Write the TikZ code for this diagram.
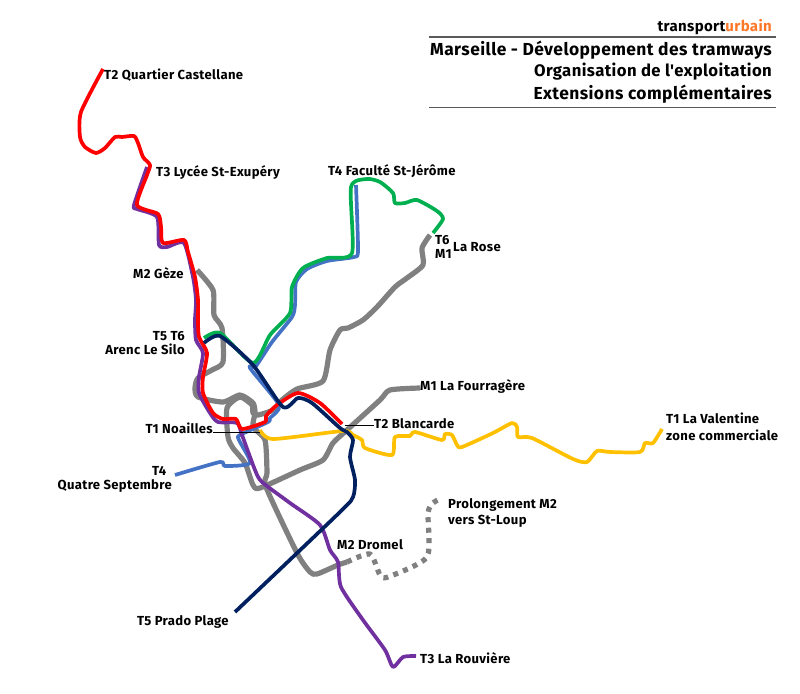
\documentclass[tikz,border=0pt]{standalone}
\usepackage{fontspec}
\setmainfont{Fira Sans}[LetterSpace=2.5,Ligatures=TeXOff]
\usepackage{tikz}
\usetikzlibrary{positioning}
\definecolor{metrogray}{RGB}{128,128,128}
\definecolor{tramred}{RGB}{255,0,0}
\definecolor{trampurple}{RGB}{112,48,160}
\definecolor{tramnavy}{RGB}{0,32,96}
\definecolor{tramblue}{RGB}{68,114,196}
\definecolor{tramgreen}{RGB}{0,176,80}
\definecolor{tramyellow}{RGB}{255,192,0}
\definecolor{logoorange}{RGB}{255,120,40}
\tikzset{
  route/.style={line width=3.7pt,line join=round},
  metro/.style={route,draw=metrogray,line width=5.2pt},
  stoplabel/.style={inner sep=0pt,font=\fontsize{13.1}{14}\selectfont\bfseries,anchor=base west},
  titlelabel/.style={inner sep=0pt,font=\fontsize{17.4}{19}\selectfont\bfseries,anchor=base east},
  leader/.style={draw=black,line width=.8pt},
  titlerule/.style={draw=black!65,line width=1.2pt}
}
\begin{document}
\begin{tikzpicture}[x=1pt,y=-1pt,smooth,tension=.4]
  \useasboundingbox (0,0) rectangle (800,693);
  % metro
  \draw[metro] plot coordinates {(430,235) (422,248) (423,265) (407,278) (395,287) (377,307) (363,320) (348,328) (340,330) (330,350) (323,381) (297,389) (282,400) (273,410) (258,415) (253,413) (252,405) (240,397) (227,408) (228,437) (233,448) (245,463) (253,485) (260,488) (300,470) (323,460) (333,443) (347,430) (380,400) (390,390) (420,388)};
  \draw[metro] plot coordinates {(197,270) (213,290) (214,315) (222,328) (223,362) (212,370) (198,378) (195,388) (198,397) (223,402) (240,395) (253,403) (255,413) (253,427) (265,440) (267,473) (266,487) (297,553) (310,572) (317,574) (338,565) (347,562)};
  \draw[metro,dash pattern=on 5pt off 5.5pt] plot coordinates {(347,562) (370,554) (380,575) (388,577) (427,557) (428,513) (433,503) (440,499)};
  % T1
  \draw[route,draw=tramyellow] plot coordinates {(260,430) (273,439) (343,431) (353,435) (362,440) (365,448) (392,455) (395,437) (410,436) (415,432) (442,440) (445,434) (452,435) (457,445) (462,447) (493,433) (512,423) (517,427) (518,437) (532,438) (573,459) (587,462) (597,451) (610,452) (640,452) (645,443) (653,443) (662,429)};
  % T4
  \draw[route,draw=tramblue] plot coordinates {(356,185) (358,250) (354,257) (327,261) (307,269) (296,282) (295,305) (292,317) (272,342) (256,366) (250,368) (279,405) (270,418) (268,422) (240,435) (239,440) (250,463) (225,466) (220,462) (175,475)};
  % T6
  \draw[route,draw=tramgreen] plot coordinates {(204,338) (220,333) (253,363) (270,335) (290,313) (292,287) (303,268) (327,258) (352,253) (351,187) (367,179) (380,182) (393,193) (395,203) (405,203) (417,200) (437,211) (443,219) (433,233)};
  % T3
  \draw[route,draw=trampurple] plot coordinates {(147,167) (134,205) (137,209) (157,217) (159,245) (167,247) (184,243) (193,277) (196,300) (195,320) (196,340) (203,353) (199,377) (199,393) (210,413) (218,422) (237,423) (242,435) (255,470) (262,482) (290,503) (320,525) (330,550) (338,562) (341,587) (363,620) (385,650) (393,667) (403,657) (416,656)};
  % T2
  \draw[route,draw=tramred] plot coordinates {(103,69) (81,112) (80,137) (85,147) (96,153) (105,148) (115,137) (122,137) (134,136) (138,143) (143,157) (150,165) (147,175) (137,205) (158,214) (161,227) (163,243) (184,240) (188,252) (195,277) (198,300) (198,320) (199,337) (207,353) (203,377) (203,393) (213,413) (223,419) (236,419) (242,429) (265,422) (266,416) (277,405) (298,393) (320,403) (342,424)};
  % T5
  \draw[route,draw=tramnavy] plot coordinates {(204,343) (220,336) (253,365) (283,407) (298,398) (312,403) (340,428) (347,432) (353,440) (350,457) (355,480) (353,497) (340,512) (235,612)};
  % titre
  \node[titlelabel,font=\fontsize{15}{16}\selectfont\bfseries] (brand) at (772,32) {transport\textcolor{logoorange}{urbain}};
  \node[titlelabel] (titleone) at (772,56) {Marseille - Développement des tramways};
  \node[titlelabel,font=\fontsize{16.7}{19}\selectfont\bfseries] (titletwo) at (772,77) {Organisation de l'exploitation};
  \node[titlelabel] (titlethree) at (772,99) {Extensions complémentaires};
  \coordinate (ruleoneL) at (429,37);
  \coordinate (ruleoneR) at (776,37);
  \coordinate (ruletwoL) at (429,107.5);
  \coordinate (ruletwoR) at (776,107.5);
  \draw[titlerule] (ruleoneL) -- (ruleoneR);
  \draw[titlerule] (ruletwoL) -- (ruletwoR);
  % labels
  \node[stoplabel] (castellane) at (104,79) {T2 Quartier Castellane};
  \node[stoplabel] (lycee) at (156,176) {T3 Lycée St-Exupéry};
  \node[stoplabel] (jerome) at (328,175) {T4 Faculté St-Jérôme};
  \node[stoplabel] (tsix) at (435,244) {T6};
  \node[stoplabel] (mun) at (435,258.5) {M1};
  \node[stoplabel] (larose) at (453,251) {La Rose};
  \node[stoplabel] (geze) at (133,278) {M2 Gèze};
  \node[stoplabel,anchor=base east] (tcinq) at (185,340) {T5 T6};
  \node[stoplabel,anchor=base east] (arenc) at (185,354) {Arenc Le Silo};
  \node[stoplabel] (fourragere) at (420,390) {M1 La Fourragère};
  \node[stoplabel] (blancarde) at (374,428) {T2 Blancarde};
  \node[stoplabel] (valentine) at (666,423) {T1 La Valentine};
  \node[stoplabel] (zone) at (666,440) {zone commerciale};
  \node[stoplabel,anchor=base east] (noailles) at (213,433) {T1 Noailles};
  \node[stoplabel] (tquatre) at (152,475) {T4};
  \node[stoplabel,anchor=base east] (septembre) at (172,489) {Quatre Septembre};
  \node[stoplabel] (prolong) at (448,508) {Prolongement M2};
  \node[stoplabel] (loup) at (448,524) {vers St-Loup};
  \node[stoplabel] (dromel) at (337,549) {M2 Dromel};
  \node[stoplabel] (prado) at (137,625) {T5 Prado Plage};
  \node[stoplabel] (rouviere) at (420,663) {T3 La Rouvière};
  % traits
  \coordinate (noaillesstop) at (260,432);
  \coordinate (blancardestop) at (345,425);
  \draw[leader] (noailles.east |- noaillesstop) -- (noaillesstop);
  \draw[leader] (blancarde.west |- blancardestop) -- (blancardestop);
\end{tikzpicture}
\end{document}
